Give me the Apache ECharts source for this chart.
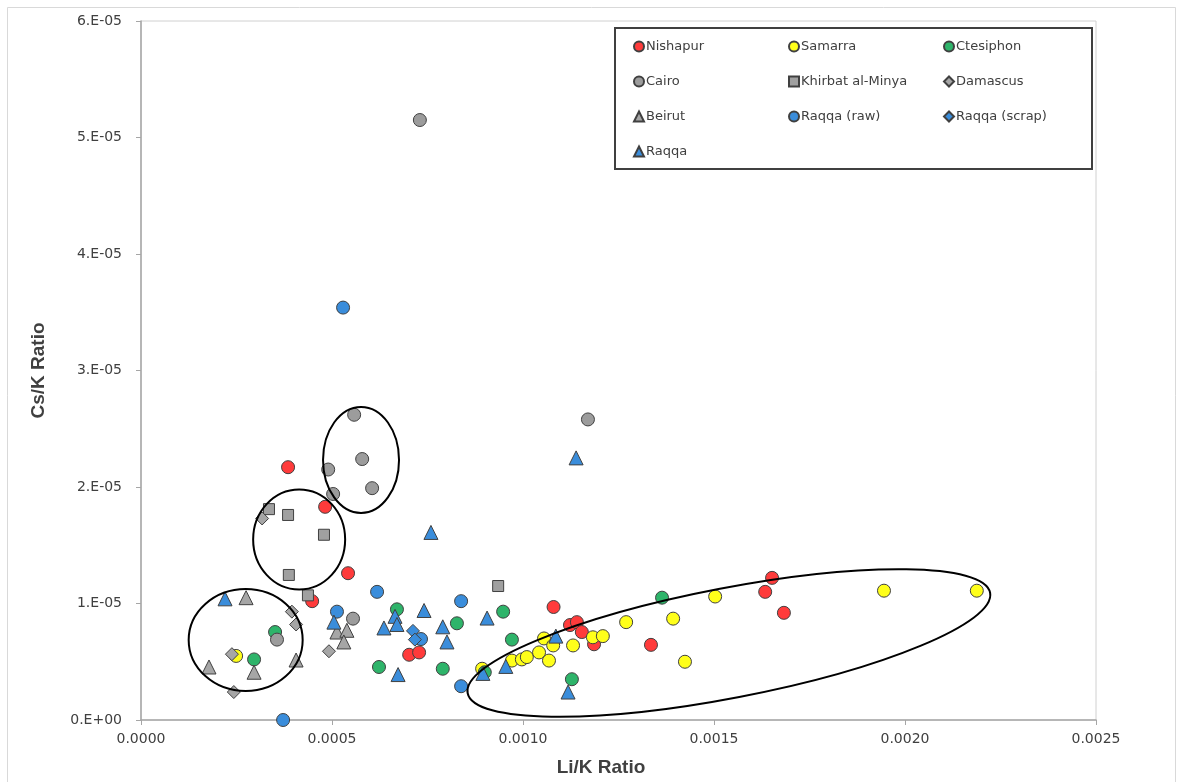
<!DOCTYPE html>
<html>
<head>
<meta charset="utf-8">
<script src="https://cdn.jsdelivr.net/npm/echarts@6/dist/echarts.min.js"></script>
<style>
  html, body { margin: 0; padding: 0; background: #fff; }
  #main { width: 1184px; height: 782px; }
</style>
</head>
<body>
<div id="main"></div>
<script>
// Li/K ratio (x) vs Cs/K ratio (y)
const nishapur = [[0.000385, 2.17e-5], [0.000482, 1.83e-5], [0.000542, 1.26e-5], [0.000448, 1.02e-5],
  [0.000702, 5.6e-6], [0.000728, 5.8e-6], [0.00108, 9.7e-6], [0.001123, 8.15e-6], [0.001141, 8.4e-6],
  [0.001154, 7.55e-6], [0.001186, 6.5e-6], [0.001335, 6.45e-6], [0.001652, 1.22e-5], [0.001634, 1.10e-5],
  [0.001683, 9.2e-6]];
const samarra = [[0.000249, 5.5e-6], [0.000893, 4.4e-6], [0.000971, 5.1e-6], [0.000997, 5.2e-6],
  [0.00101, 5.4e-6], [0.001042, 5.8e-6], [0.001068, 5.1e-6], [0.001055, 7.0e-6], [0.001079, 6.4e-6],
  [0.001131, 6.4e-6], [0.001183, 7.1e-6], [0.001209, 7.2e-6], [0.00127, 8.4e-6], [0.001393, 8.7e-6],
  [0.001424, 5.0e-6], [0.001503, 1.06e-5], [0.001945, 1.11e-5], [0.002188, 1.11e-5]];
const ctesiphon = [[0.000351, 7.55e-6], [0.000296, 5.2e-6], [0.00067, 9.5e-6], [0.000827, 8.3e-6],
  [0.000623, 4.55e-6], [0.00079, 4.4e-6], [0.000948, 9.3e-6], [0.000971, 6.9e-6], [0.001128, 3.5e-6],
  [0.0009, 4.1e-6], [0.001364, 1.05e-5]];
const cairo = [[0.00073, 5.15e-5], [0.00117, 2.58e-5], [0.000558, 2.62e-5], [0.000579, 2.24e-5],
  [0.00049, 2.15e-5], [0.000605, 1.99e-5], [0.000503, 1.94e-5], [0.000356, 6.9e-6], [0.000555, 8.7e-6]];
const khirbat = [[0.000335, 1.81e-5], [0.000385, 1.76e-5], [0.000479, 1.59e-5], [0.000387, 1.245e-5],
  [0.000437, 1.07e-5], [0.000935, 1.15e-5]];
const damascus = [[0.000317, 1.73e-5], [0.000395, 9.3e-6], [0.000406, 8.2e-6], [0.000492, 5.9e-6],
  [0.000238, 5.65e-6], [0.000243, 2.4e-6]];
const beirut = [[0.000275, 1.05e-5], [0.000178, 4.55e-6], [0.000296, 4.1e-6], [0.000406, 5.15e-6],
  [0.000513, 7.55e-6], [0.000539, 7.7e-6], [0.000531, 6.7e-6]];
const raqqaRaw = [[0.000372, 0], [0.000529, 3.54e-5], [0.000618, 1.1e-5], [0.000513, 9.3e-6],
  [0.000838, 1.02e-5], [0.000838, 2.9e-6], [0.000733, 6.95e-6]];
const raqqaScrap = [[0.000712, 7.65e-6], [0.000717, 6.9e-6]];
const raqqa = [[0.00022, 1.04e-5], [0.000505, 8.4e-6], [0.000636, 7.9e-6], [0.000665, 8.9e-6],
  [0.00067, 8.2e-6], [0.000741, 9.4e-6], [0.00079, 8.0e-6], [0.000801, 6.7e-6], [0.000673, 3.9e-6],
  [0.000906, 8.75e-6], [0.000895, 4.0e-6], [0.000955, 4.6e-6], [0.001086, 7.2e-6], [0.001118, 2.4e-6],
  [0.001139, 2.25e-5], [0.000759, 1.61e-5]];

// hand-drawn ellipses on top of the chart (center in data units)
const annotations = [
  { center: [0.000274, 6.87e-6], rx: 57, ry: 51, rotate: 0 },
  { center: [0.000414, 1.549e-5], rx: 46, ry: 50, rotate: 0 },
  { center: [0.000576, 2.232e-5], rx: 38, ry: 53, rotate: 0 },
  { center: [0.001539, 6.61e-6], rx: 266, ry: 55, rotate: 0.19 }
];

const edge = '#404040';
function ser(name, data, symbol, size, color) {
  return {
    name: name, type: 'scatter', data: data, symbol: symbol, symbolSize: size,
    itemStyle: { color: color, borderColor: edge, borderWidth: 1, opacity: 1 }
  };
}

function sci(v) {
  if (v === 0) return '0.E+00';
  let e = Math.floor(Math.log10(Math.abs(v)) + 1e-9);
  let m = Math.round(v / Math.pow(10, e));
  if (m >= 10) { m = m / 10; e++; }
  return m + '.E' + (e < 0 ? '-' : '+') + String(Math.abs(e)).padStart(2, '0');
}

const chart = echarts.init(document.getElementById('main'));
const option = {
  backgroundColor: '#fff',
  animation: false,
  textStyle: { fontFamily: 'DejaVu Sans' },
  grid: { left: 141, right: 88, top: 21, bottom: 62, show: true, borderColor: '#d0d0d0', borderWidth: 1 },
  legend: {
    left: 615, top: 28, width: 455,
    padding: [12, 16, 11, 18],
    borderColor: '#404040', borderWidth: 2,
    itemWidth: 10, itemHeight: 10, itemGap: 22,
    textStyle: { fontSize: 13, color: '#404040', width: 120, lineHeight: 13, padding: [0, 0, 0, -3] }
  },
  xAxis: {
    type: 'value', min: 0, max: 0.0025, interval: 0.0005,
    name: 'Li/K Ratio', nameLocation: 'middle', nameGap: 38,
    nameTextStyle: { fontFamily: 'Liberation Sans', fontWeight: 'bold', fontSize: 19, color: '#404040', padding: [0, 35, 0, 0] },
    axisLine: { lineStyle: { color: '#a6a6a6', width: 1.5 } },
    axisTick: { show: true, length: 5, lineStyle: { color: '#a6a6a6' } },
    axisLabel: { fontSize: 14, color: '#404040', margin: 12, formatter: v => v.toFixed(4) },
    splitLine: { show: false }
  },
  yAxis: {
    type: 'value', min: 0, max: 6e-5, interval: 1e-5,
    name: 'Cs/K Ratio', nameLocation: 'middle', nameGap: 93,
    nameTextStyle: { fontFamily: 'Liberation Sans', fontWeight: 'bold', fontSize: 19, color: '#404040' },
    axisLine: { show: true, lineStyle: { color: '#a6a6a6', width: 1.5 } },
    axisTick: { show: true, length: 5, lineStyle: { color: '#a6a6a6' } },
    axisLabel: { fontSize: 14, color: '#404040', margin: 19, formatter: sci },
    splitLine: { show: false }
  },
  series: [
    ser('Nishapur', nishapur, 'circle', 13, '#ff3b3b'),
    ser('Samarra', samarra, 'circle', 13, '#ffff1a'),
    ser('Ctesiphon', ctesiphon, 'circle', 13, '#2eb46a'),
    ser('Cairo', cairo, 'circle', 13, '#9c9c9c'),
    ser('Khirbat al-Minya', khirbat, 'rect', 11, '#a0a0a0'),
    ser('Damascus', damascus, 'diamond', 13, '#a6a6a6'),
    ser('Beirut', beirut, 'triangle', 14, '#a6a6a6'),
    ser('Raqqa (raw)', raqqaRaw, 'circle', 13, '#3a8ddb'),
    ser('Raqqa (scrap)', raqqaScrap, 'diamond', 13, '#3a8ddb'),
    ser('Raqqa', raqqa, 'triangle', 14, '#3a8ddb')
  ]
};
chart.setOption(option);

const shapes = annotations.map(a => {
  const p = chart.convertToPixel({ gridIndex: 0 }, a.center);
  return {
    type: 'ellipse', x: p[0], y: p[1], rotation: a.rotate, silent: true, z: 100,
    shape: { cx: 0, cy: 0, rx: a.rx, ry: a.ry },
    style: { fill: 'none', stroke: '#000', lineWidth: 2 }
  };
});
chart.setOption({
  graphic: [{
    type: 'rect', silent: true, z: -1,
    shape: { x: 7.5, y: 7.5, width: 1168, height: 800 },
    style: { fill: 'none', stroke: '#d9d9d9', lineWidth: 1 }
  }].concat(shapes)
});
</script>
</body>
</html>
